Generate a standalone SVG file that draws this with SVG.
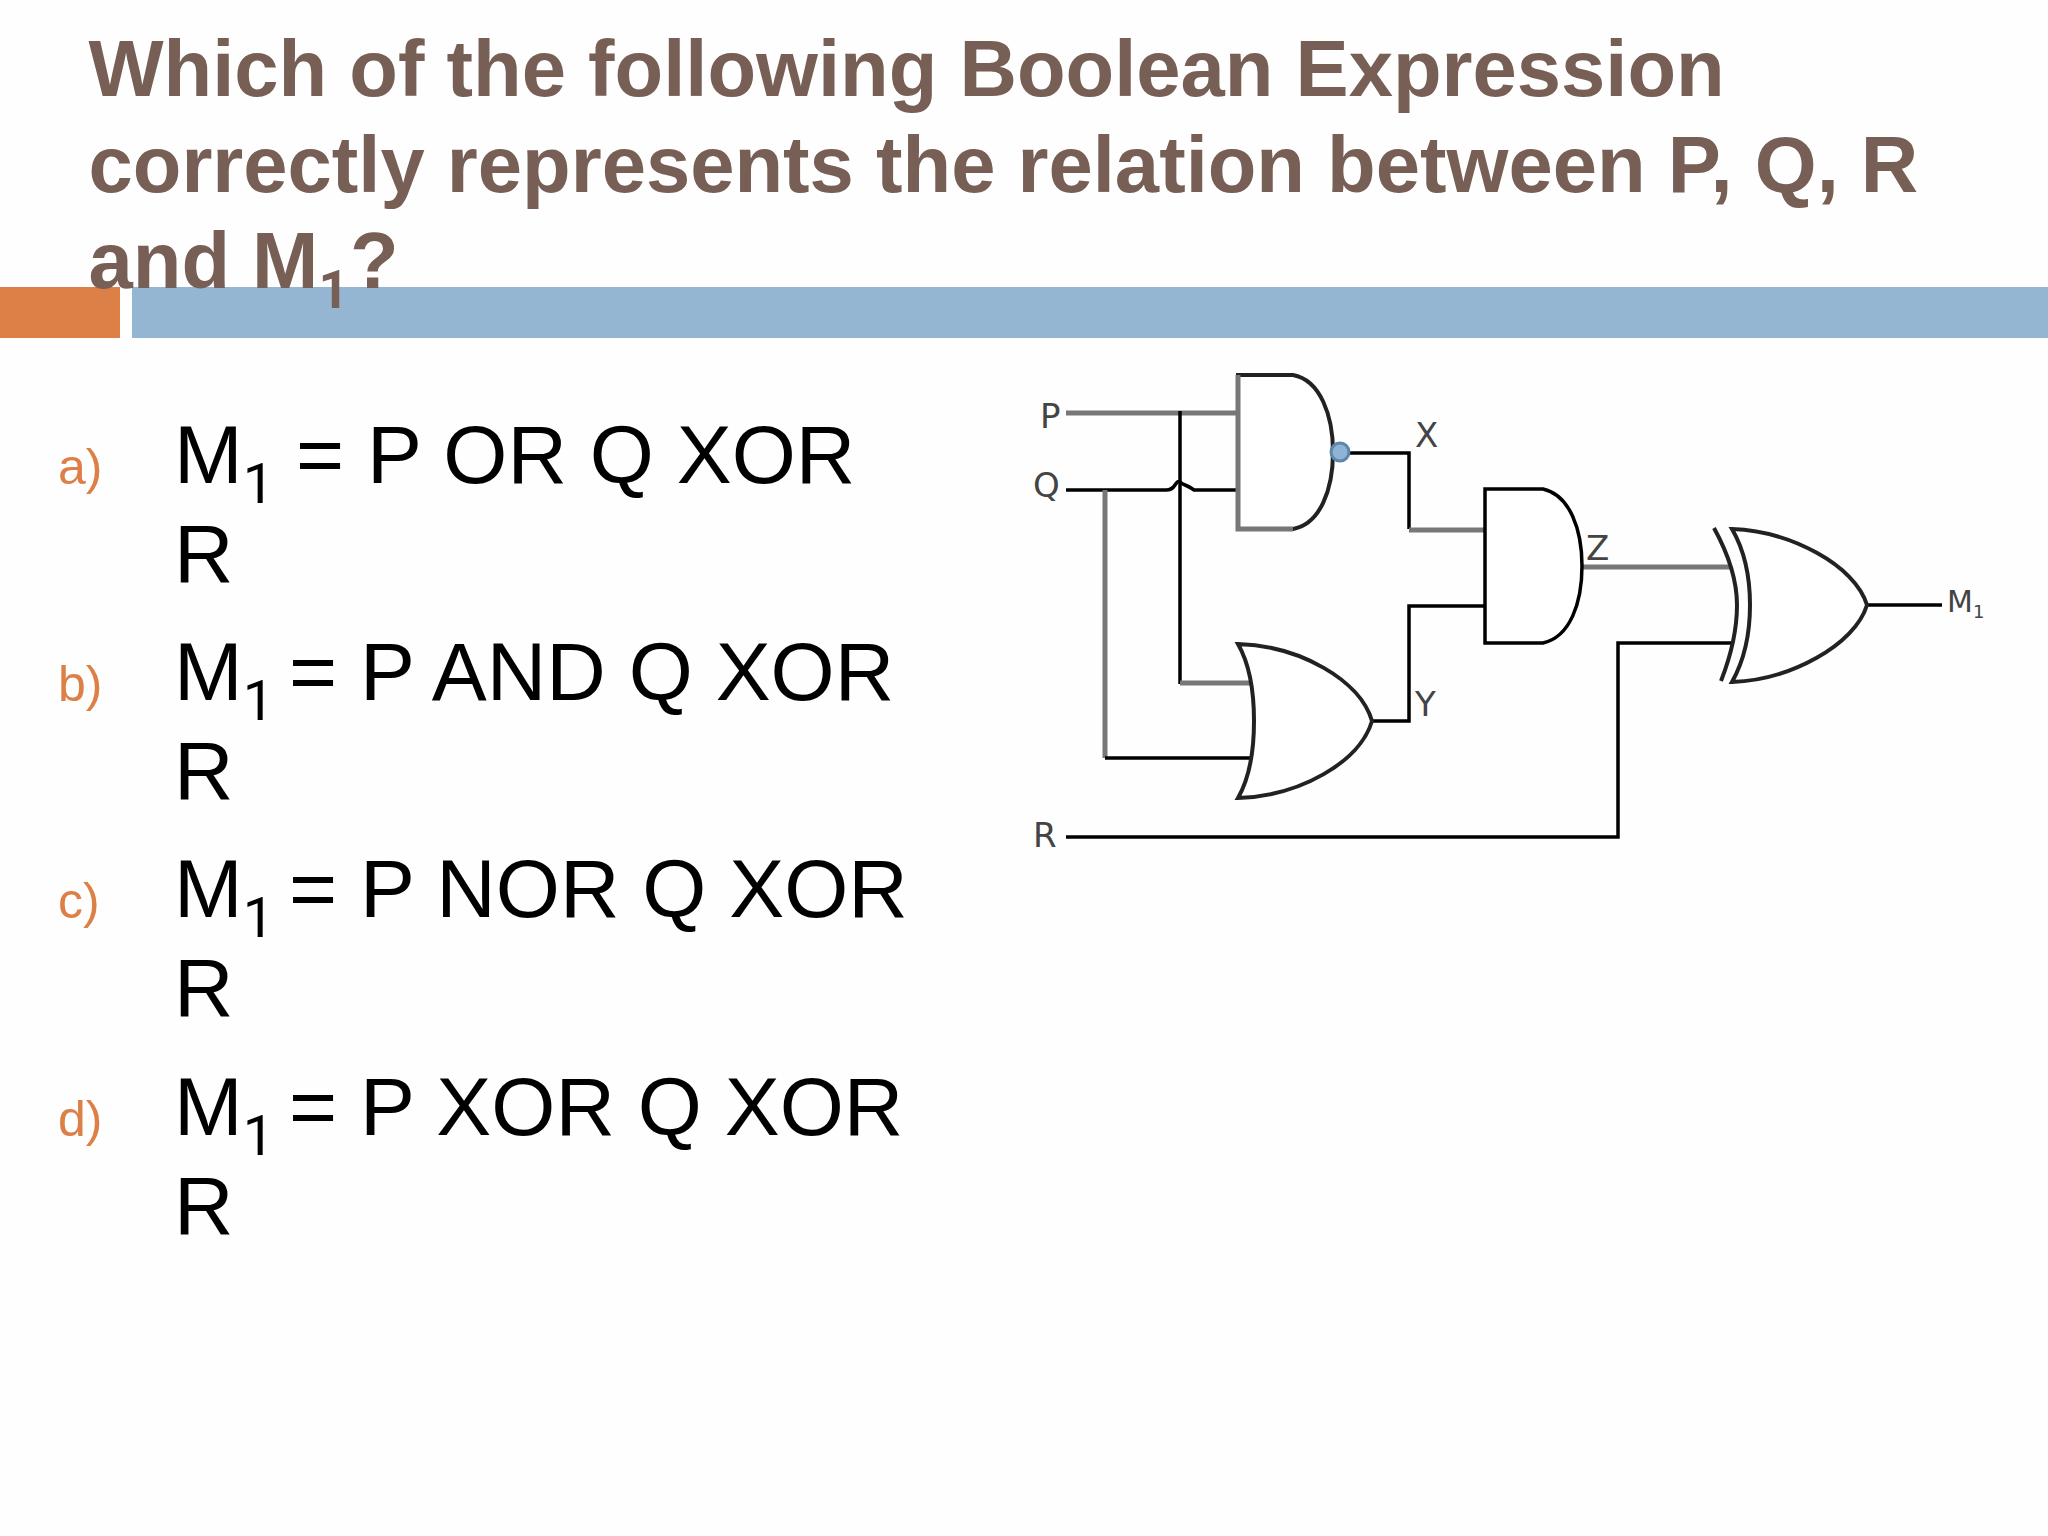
<svg xmlns="http://www.w3.org/2000/svg" width="2048" height="1536" viewBox="0 0 2048 1536">
<style>
.title{font:bold 79.6px "Liberation Sans",Arial,sans-serif;fill:#775F55}
.tsub{font-family:Roboto,sans-serif;font-size:53px}
.body{font:82.4px "Liberation Sans",Arial,sans-serif;fill:#000}
.bsub{font-family:Roboto,sans-serif;font-size:56px}
.mark{font:50px "Liberation Sans",Arial,sans-serif;fill:#DD8047}
.lab{font:34px "DejaVu Sans",sans-serif;fill:#444}
.k{fill:none;stroke:#000;stroke-width:3.5}
.g{fill:none;stroke:#777;stroke-width:5}
.gate{fill:#fff;stroke:#222;stroke-width:4}
</style>
<rect width="2048" height="1536" fill="#fefefe"/>
<g id="title-bar"><rect x="0" y="287" width="120" height="51" fill="#DD8047"/><rect x="132" y="287" width="1916" height="51" fill="#94B6D2"/></g>
<g id="title">
<text class="title" x="88.5" y="96">Which of the following Boolean Expression</text>
<text class="title" x="88.5" y="192">correctly represents the relation between P, Q, R</text>
<text class="title" x="88.5" y="288">and M<tspan class="tsub" dy="20">1</tspan><tspan dy="-20" x="350">?</tspan></text>
</g>
<g id="options">
<text class="mark" x="58" y="484">a)</text>
<text class="body" x="174" y="483">M<tspan class="bsub" dy="20">1</tspan><tspan dy="-20" x="296">= P OR Q XOR</tspan></text>
<text class="body" x="174" y="582">R</text>
<text class="mark" x="58" y="701">b)</text>
<text class="body" x="174" y="700">M<tspan class="bsub" dy="20">1</tspan><tspan dy="-20" x="289">= P AND Q XOR</tspan></text>
<text class="body" x="174" y="799">R</text>
<text class="mark" x="58" y="918">c)</text>
<text class="body" x="174" y="917">M<tspan class="bsub" dy="20">1</tspan><tspan dy="-20" x="289">= P NOR Q XOR</tspan></text>
<text class="body" x="174" y="1016">R</text>
<text class="mark" x="58" y="1136">d)</text>
<text class="body" x="174" y="1135">M<tspan class="bsub" dy="20">1</tspan><tspan dy="-20" x="289">= P XOR Q XOR</tspan></text>
<text class="body" x="174" y="1234">R</text>
</g>
<g id="connectors">
<path class="g" d="M1066 413H1238"/>
<path class="k" d="M1066 490H1166Q1172 490 1175 485T1180 482T1185 485T1194 490H1238"/>
<path class="k" d="M1180 411V684"/>
<path class="g" d="M1180 683H1252"/>
<path class="g" d="M1105 490V758"/>
<path class="k" d="M1105 758H1252"/>
<path class="k" d="M1350 453H1409V529"/>
<path class="g" d="M1409 530H1485"/>
<path class="k" d="M1372 721H1409V606H1485"/>
<path class="g" d="M1582 567H1731"/>
<path class="k" d="M1066 837H1618V643H1731"/>
<path class="k" d="M1867 605H1942"/>
</g>
<g id="gate-nand"><path class="gate" d="M1238 375H1293C1320 380 1333 415 1333 452C1333 490 1320 524 1293 529H1238Z"/><path class="g" d="M1238 375V529H1293"/><circle cx="1340" cy="452" r="9" fill="#8DB3D6" stroke="#5F86A8" stroke-width="3"/></g>
<g id="gate-or"><path class="gate" d="M1238 644C1300 646 1360 680 1372 721C1360 762 1300 796 1238 798Q1254 770 1254 721T1238 644Z"/></g>
<g id="gate-and"><path class="k" style="fill:#fff" d="M1485 489H1543C1570 495 1582 530 1582 566C1582 603 1570 637 1543 643H1485Z"/></g>
<g id="gate-xor"><path class="gate" d="M1732 529C1790 531 1855 565 1867 605C1855 645 1790 680 1732 682Q1750 650 1750 605T1732 529Z"/><path class="gate" style="fill:none" d="M1714 528Q1737 570 1737 605T1721 681"/></g>
<g id="labels">
<text class="lab" x="1040" y="428">P</text>
<text class="lab" x="1033" y="497">Q</text>
<text class="lab" x="1033" y="847">R</text>
<text class="lab" x="1415" y="447">X</text>
<text class="lab" x="1415" y="716">Y</text>
<text class="lab" x="1586" y="560" fill="#000">Z</text>
<text class="lab" x="1947" y="612" style="font-size:30px">M<tspan dy="6" style="font-size:18px">1</tspan></text>
</g>
</svg>
